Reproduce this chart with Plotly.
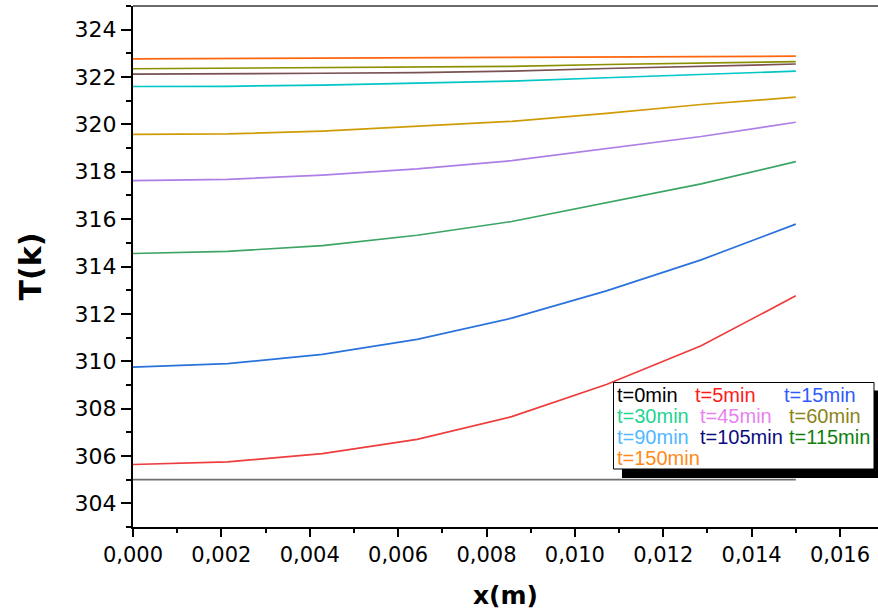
import plotly.graph_objects as go

# ---------------- data ----------------
x_m = [0.0, 0.002143, 0.004286, 0.006429, 0.008571, 0.010714, 0.012857, 0.015]

t0 = [305.0, 305.0, 305.0, 305.0, 305.0, 305.0, 305.0, 305.0]
t5 = [305.64, 305.75, 306.10, 306.70, 307.66, 309.02, 310.65, 312.76]
t15 = [309.75, 309.90, 310.29, 310.92, 311.82, 312.97, 314.28, 315.79]
t30 = [314.55, 314.64, 314.88, 315.32, 315.90, 316.68, 317.49, 318.43]
t45 = [317.63, 317.68, 317.86, 318.12, 318.47, 318.98, 319.49, 320.09]
t60 = [319.58, 319.60, 319.72, 319.91, 320.13, 320.47, 320.84, 321.15]
t90 = [321.60, 321.61, 321.66, 321.74, 321.83, 321.97, 322.12, 322.25]
t105 = [322.12, 322.13, 322.16, 322.19, 322.25, 322.36, 322.46, 322.55]
t115 = [322.35, 322.37, 322.38, 322.41, 322.45, 322.53, 322.59, 322.65]
t150 = [322.77, 322.78, 322.79, 322.80, 322.82, 322.84, 322.86, 322.88]

series = [t0, t5, t15, t30, t45, t60, t90, t105, t115, t150]
labels = ["t=0min", "t=5min", "t=15min", "t=30min", "t=45min",
          "t=60min", "t=90min", "t=105min", "t=115min", "t=150min"]

x_ticks = [0.0, 0.002, 0.004, 0.006, 0.008, 0.010, 0.012, 0.014, 0.016]
x_ticktext = ["0,000", "0,002", "0,004", "0,006", "0,008", "0,010", "0,012", "0,014", "0,016"]
y_ticks = [304, 306, 308, 310, 312, 314, 316, 318, 320, 322, 324]

# ---------------- styles ----------------
line_colors = ["#6f6f6f", "#ee3d3d", "#2a72dc", "#3ca565", "#ad7ee6",
               "#d09c06", "#00c6c6", "#7a5252", "#8b9000", "#ff6610"]
legend_colors = ["#000000", "#ff1a1a", "#2f5bff", "#22d68f", "#e882ef",
                 "#8c8418", "#52b8ff", "#0c0c80", "#0f7f0f", "#ff8a1a"]

W, H = 878, 614
L, R, T, B = 133, 0, 6, 87
pw, ph = W - L - R, H - T - B


def px(xp):
    return (xp - L) / pw


def py(yp):
    return (H - B - yp) / ph


fig = go.Figure()
for ys, name, col in zip(series, labels, line_colors):
    fig.add_trace(go.Scatter(x=x_m, y=ys, mode="lines", name=name,
                             line=dict(color=col, width=1.7), showlegend=False))

xtickfont = dict(family="DejaVu Sans", size=21, color="#000000")
ytickfont = dict(family="DejaVu Sans", size=22, color="#000000")

fig.update_layout(
    width=W, height=H,
    margin=dict(l=L, r=R, t=T, b=B),
    paper_bgcolor="white", plot_bgcolor="white",
    xaxis=dict(range=[0, 0.01686], tickvals=x_ticks, ticktext=x_ticktext,
               ticks="outside", ticklen=8, tickwidth=2, tickcolor="black",
               minor=dict(dtick=0.001, ticks="outside", ticklen=4, tickwidth=1.5, tickcolor="black"),
               showline=True, linecolor="black", linewidth=2,
               showgrid=False, zeroline=False, tickfont=xtickfont,
               title=dict(text="<b>x(m)</b>", font=dict(family="DejaVu Sans", size=25, color="black"),
                          standoff=20)),
    yaxis=dict(range=[303, 325], tickvals=y_ticks,
               ticks="outside", ticklen=10, tickwidth=2, tickcolor="black",
               minor=dict(dtick=1, ticks="outside", ticklen=5, tickwidth=1.5, tickcolor="black"),
               showline=True, linecolor="black", linewidth=2,
               showgrid=False, zeroline=False, tickfont=ytickfont,
               title=dict(text="<b>T(k)</b>", font=dict(family="DejaVu Sans", size=30, color="black"),
                          standoff=24)),
)

shapes = []
# top frame line
shapes.append(dict(type="line", xref="paper", yref="paper", x0=0, x1=1, y0=1, y1=1,
                   line=dict(color="#3a3a3a", width=1.5), layer="above"))
# legend shadow and box
shapes.append(dict(type="rect", xref="paper", yref="paper",
                   x0=px(622), x1=px(884), y0=py(478), y1=py(390.5),
                   fillcolor="black", line=dict(width=0), layer="above"))
shapes.append(dict(type="rect", xref="paper", yref="paper",
                   x0=px(613.5), x1=px(874), y0=py(469), y1=py(382.5),
                   fillcolor="white", line=dict(color="black", width=1), layer="above"))
fig.update_layout(shapes=shapes)

# legend entries (text only, coloured)
leg_pos = [(615, 395), (693, 395), (782, 395),
           (615, 416), (698, 416), (787, 416),
           (615, 437), (698, 437), (787, 437),
           (615, 458)]
for (lx, ly), name, col in zip(leg_pos, labels, legend_colors):
    fig.add_annotation(x=px(lx), y=py(ly), xref="paper", yref="paper",
                       text=name, showarrow=False, xanchor="left", yanchor="middle",
                       font=dict(family="Liberation Sans, Arial", size=20, color=col))

fig.write_html("out.html")
